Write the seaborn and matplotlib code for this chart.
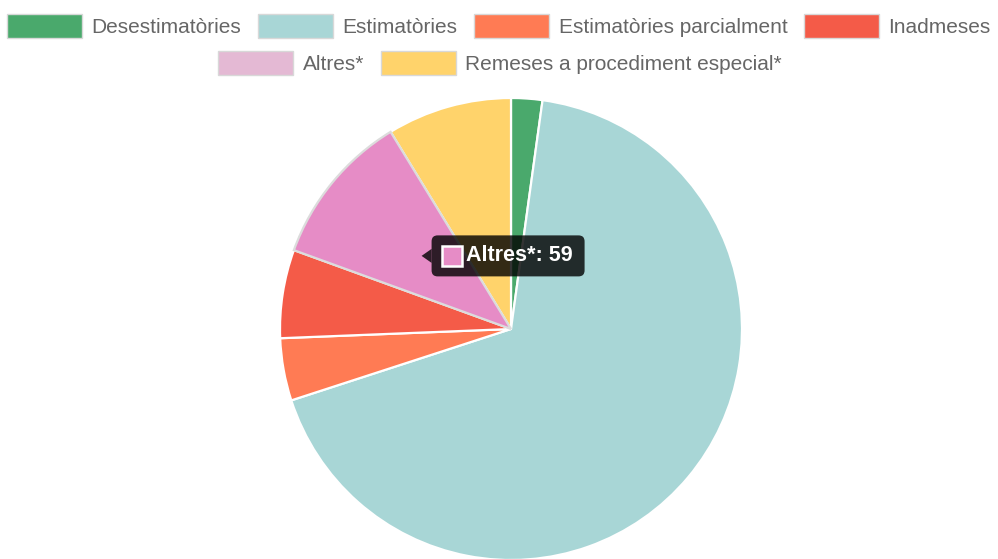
import numpy as np
import matplotlib
matplotlib.use("Agg")
import matplotlib.pyplot as plt
import seaborn as sns
from matplotlib.patches import Patch, FancyBboxPatch, Rectangle, Polygon

# Dades (llegides del gràfic)
labels = ["Desestimatòries", "Estimatòries", "Estimatòries parcialment",
          "Inadmeses", "Altres*", "Remeses a procediment especial*"]
values = [12, 373, 24, 34, 59, 48]
colors = ["#4aa96c", "#a8d6d6", "#ff7b54", "#f45b48", "#e4b9d4", "#ffd36b"]
hover_label = "Altres*"
hover_color = "#e68cc6"

sns.set_style("white")
plt.rcParams["font.family"] = ["Liberation Sans", "DejaVu Sans"]

W, H = 998, 559
cx, cy, R = 511, 329, 231  # centre i radi en píxels

fig = plt.figure(figsize=(W / 100, H / 100), dpi=100)
ax = fig.add_axes([0, 0, 1, 1])

hi = labels.index(hover_label)
slice_colors = list(colors)
slice_colors[hi] = hover_color

wedges, _ = ax.pie(values, colors=slice_colors, startangle=90, counterclock=False,
                   radius=1, wedgeprops=dict(edgecolor="white", linewidth=1.6))
wedges[hi].set_edgecolor("#dcdcdc")
wedges[hi].set_zorder(3)

ax.set_aspect("auto")
ax.set_xlim(-cx / R, (W - cx) / R)
ax.set_ylim(-(H - cy) / R, cy / R)
ax.axis("off")

# Tooltip al centre de la porció "Altres*"
w = wedges[hi]
mid = np.deg2rad((w.theta1 + w.theta2) / 2)
tx, ty = 0.5 * np.cos(mid), 0.5 * np.sin(mid)
px = 1 / R  # un píxel en unitats de dades
box_l = tx + 10 * px
box_w, box_h = 153 * px, 41 * px
tip = dict(facecolor="black", alpha=0.8, edgecolor="none", zorder=10)
ax.add_patch(FancyBboxPatch((box_l + 6 * px, ty - box_h / 2 + 6 * px),
                            box_w - 12 * px, box_h - 12 * px,
                            boxstyle="round,pad=%f" % (6 * px), **tip))
ax.add_patch(Polygon([[tx, ty], [box_l, ty + 7 * px], [box_l, ty - 7 * px]],
                     closed=True, **tip))
ax.add_patch(Rectangle((box_l + 10 * px, ty - 10 * px), 20 * px, 20 * px,
                       facecolor=hover_color, edgecolor="white", linewidth=1.8,
                       zorder=11))
ax.text(box_l + 34 * px, ty, f"{hover_label}: {values[hi]}", color="white",
        fontsize=15.5, fontweight="bold", va="center", ha="left", zorder=12)

# Llegenda en dues files centrades
handles = [Patch(facecolor=c, edgecolor="#d8d8d8", linewidth=1) for c in colors]
common = dict(frameon=False, fontsize=15, handlelength=3.6, handleheight=1.35,
              handletextpad=0.45, columnspacing=0.8, borderaxespad=0,
              labelcolor="#666666")
fig.legend(handles[:4], labels[:4], ncol=4, loc="center",
           bbox_to_anchor=(0.5, 1 - 26 / H), **common)
fig.legend(handles[4:], labels[4:], ncol=2, loc="center",
           bbox_to_anchor=(0.501, 1 - 63 / H), **common)

fig.savefig("out.png", dpi=100)
